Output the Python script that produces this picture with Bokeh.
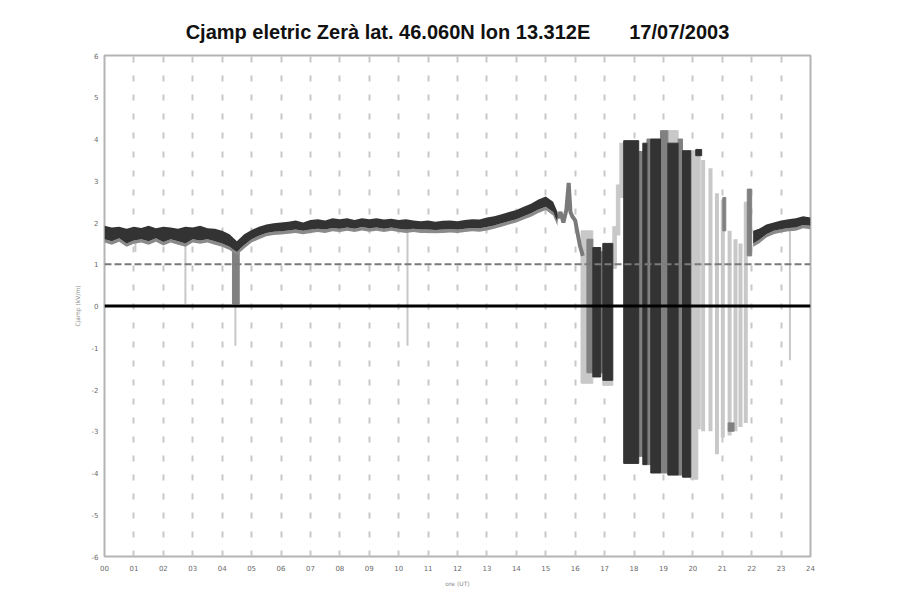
from bokeh.plotting import figure
from bokeh.models import FixedTicker, Span, ColumnDataSource, Range1d
from bokeh.embed import file_html
from bokeh.resources import INLINE

# ---------------- data ----------------
title_text = "Cjamp eletric Zerà lat. 46.060N lon 13.312E" + "\u00a0" * 6 + " 17/07/2003"
x_label = "ore (UT)"
y_label = "Cjamp (kV/m)"
hour_ticks = list(range(0, 25))
hour_labels = ["%02d" % h for h in hour_ticks]
field_ticks = [-6, -5, -4, -3, -2, -1, 0, 1, 2, 3, 4, 5, 6]
field_labels = ["-6", "-5", "-4", "-3", "-2", "-1", "0", "1", "2", "3", "4", "5", "6"]

# calm record before the storm (upper / lower edge of the trace)
calm1_h = [0.00, 0.25, 0.50, 0.75, 1.00, 1.25, 1.50, 1.75, 2.00, 2.25, 2.50, 2.75,
           3.00, 3.25, 3.50, 3.75, 4.00, 4.25, 4.50, 4.75, 5.00, 5.25, 5.50, 5.75,
           6.00, 6.25, 6.50, 6.75, 7.00, 7.25, 7.50, 7.75, 8.00, 8.25, 8.50, 8.75,
           9.00, 9.25, 9.50, 9.75, 10.00, 10.25, 10.50, 10.75, 11.00, 11.25, 11.50, 11.75,
           12.00, 12.25, 12.50, 12.75, 13.00, 13.25, 13.50, 13.75, 14.00, 14.25, 14.50, 14.75,
           15.00, 15.25, 15.40]
calm1_hi = [1.92, 1.88, 1.90, 1.85, 1.90, 1.87, 1.92, 1.86, 1.90, 1.88, 1.85, 1.90,
            1.88, 1.92, 1.86, 1.85, 1.80, 1.72, 1.55, 1.72, 1.82, 1.90, 1.95, 1.98,
            2.00, 2.02, 2.05, 2.00, 2.06, 2.08, 2.05, 2.10, 2.08, 2.10, 2.06, 2.10,
            2.08, 2.10, 2.07, 2.09, 2.06, 2.08, 2.05, 2.03, 2.05, 2.02, 2.04, 2.05,
            2.03, 2.06, 2.08, 2.07, 2.12, 2.15, 2.20, 2.25, 2.30, 2.38, 2.45, 2.55,
            2.62, 2.50, 2.25]
calm1_lo = [1.60, 1.55, 1.62, 1.50, 1.57, 1.60, 1.55, 1.62, 1.53, 1.60, 1.55, 1.50,
            1.60, 1.57, 1.60, 1.55, 1.50, 1.42, 1.30, 1.46, 1.60, 1.68, 1.75, 1.78,
            1.79, 1.81, 1.83, 1.80, 1.83, 1.85, 1.83, 1.87, 1.85, 1.88, 1.85, 1.89,
            1.86, 1.88, 1.85, 1.88, 1.85, 1.83, 1.85, 1.83, 1.83, 1.82, 1.83, 1.84,
            1.83, 1.85, 1.87, 1.86, 1.89, 1.93, 1.98, 2.03, 2.08, 2.15, 2.22, 2.31,
            2.38, 2.25, 2.00]

# trace at the onset of the storm (single line)
onset_h = [15.40, 15.50, 15.60, 15.70, 15.78, 15.84, 15.90, 16.00, 16.08, 16.16, 16.26]
onset_v = [2.10, 2.25, 2.00, 2.30, 2.95, 2.25, 2.15, 2.05, 1.75, 1.45, 1.20]

# calm record after the storm
calm2_h = [22.05, 22.25, 22.50, 22.75, 23.00, 23.25, 23.50, 23.75, 24.00]
calm2_hi = [1.80, 1.85, 1.95, 2.00, 2.05, 2.08, 2.10, 2.15, 2.12]
calm2_lo = [1.50, 1.58, 1.72, 1.80, 1.84, 1.87, 1.88, 1.94, 1.92]

# isolated spikes: hour, top, bottom
spike_h = [1.05, 2.75, 4.45, 10.30, 23.30]
spike_top = [1.55, 1.55, 0.05, 1.85, 1.90]
spike_bot = [1.30, 0.05, -0.95, -0.95, -1.30]

# individual swings in the late part of the storm: hour, top, bottom
swing_h = [20.20, 20.35, 20.60, 20.82, 21.02, 21.25, 21.45, 21.62, 21.80]
swing_top = [3.60, 3.50, 3.30, 2.70, 2.55, 1.80, 1.60, 1.50, 2.50]
swing_bot = [-2.95, -3.00, -3.00, -3.55, -3.15, -3.10, -3.00, -2.90, -2.80]

# storm oscillation envelopes: start hour, end hour, top, bottom, shade
band_start = [4.35, 16.20, 16.40, 16.60, 16.87, 16.94,
              16.94, 17.28, 17.40, 17.52, 17.65, 18.16, 18.30, 18.44, 18.57, 18.90,
              19.15, 19.15, 19.50, 19.65, 19.93, 20.10, 21.02, 21.20, 21.85]
band_end = [4.58, 16.60, 16.60, 16.87, 16.94, 17.28,
            17.28, 17.40, 17.52, 17.65, 18.16, 18.30, 18.44, 18.57, 18.90, 19.15,
            19.50, 19.50, 19.65, 19.93, 20.17, 20.30, 21.12, 21.40, 22.00]
band_top = [1.40, 1.80, 1.60, 1.40, 1.30, 1.50,
            -1.78, 1.90, 2.90, 3.90, 3.96, 3.70, 3.90, 4.00, 4.00, 4.20,
            3.90, 4.20, 4.00, 3.72, 3.72, 3.75, 2.60, -2.80, 2.80]
band_bot = [0.05, -1.85, -1.60, -1.70, -1.60, -1.78,
            -1.90, 0.90, 1.70, 2.60, -3.77, -3.60, -3.80, -3.80, -4.00, -4.00,
            -4.05, 3.90, -4.05, -4.10, -4.15, 3.60, 1.80, -3.00, 1.20]
band_shade = ["mid", "light", "mid", "dark", "mid", "dark",
              "light", "light", "light", "light", "dark", "mid", "dark", "mid", "dark", "mid",
              "dark", "light", "mid", "dark", "light", "dark", "mid", "mid", "mid"]

threshold = 1.0

# ---------------- styling ----------------
shade_color = {"dark": "#333333", "mid": "#808080", "light": "#c8c8c8"}
order = {"light": 0, "mid": 1, "dark": 2}

p = figure(width=900, height=590, output_backend="svg", toolbar_location=None,
           x_range=Range1d(0, 24), y_range=Range1d(-6, 6),
           min_border_left=104, min_border_right=90, min_border_top=55, min_border_bottom=34)
p.background_fill_color = "white"
p.border_fill_color = "white"
p.outline_line_color = "#b4b4b4"
p.outline_line_width = 2

p.title.text = title_text
p.title.align = "center"
p.title.vertical_align = "top"
p.title.text_font = "Liberation Sans"
p.title.text_font_style = "bold"
p.title.text_font_size = "20px"
p.title.text_color = "#111111"
p.title.standoff = 21

# grid
p.ygrid.visible = False
p.xgrid.ticker = FixedTicker(ticks=hour_ticks)
p.xgrid.grid_line_color = "#c8c8c8"
p.xgrid.grid_line_width = 2
p.xgrid.grid_line_dash = "6 13"

# axes
for ax in (p.xaxis[0], p.yaxis[0]):
    ax.axis_line_color = None
    ax.major_tick_line_color = None
    ax.minor_tick_line_color = None
    ax.major_tick_out = 0
    ax.major_tick_in = 0
    ax.major_label_text_font = "DejaVu Sans"
    ax.major_label_text_font_size = "7px"
    ax.major_label_text_color = "#6a6a6a"
    ax.axis_label_text_font = "DejaVu Sans"
    ax.axis_label_text_font_size = "6px"
    ax.axis_label_text_font_style = "normal"
    ax.axis_label_text_color = "#8a8a8a"

p.xaxis.ticker = FixedTicker(ticks=hour_ticks)
p.xaxis.major_label_overrides = {t: l for t, l in zip(hour_ticks, hour_labels)}
p.xaxis.major_label_standoff = 8
p.xaxis.axis_label = x_label
p.xaxis.axis_label_standoff = 6
p.yaxis.ticker = FixedTicker(ticks=field_ticks)
p.yaxis.major_label_overrides = {t: l for t, l in zip(field_ticks, field_labels)}
p.yaxis.major_label_standoff = 6
p.yaxis.axis_label = y_label
p.yaxis.axis_label_standoff = 8

# threshold line
p.add_layout(Span(location=threshold, dimension="width", line_color="#7a7a7a",
                  line_width=2, line_dash="7 3"))

# storm envelopes
idx = sorted(range(len(band_start)), key=lambda i: order[band_shade[i]])
bsrc = ColumnDataSource(dict(
    left=[band_start[i] for i in idx], right=[band_end[i] for i in idx],
    top=[band_top[i] for i in idx], bottom=[band_bot[i] for i in idx],
    color=[shade_color[band_shade[i]] for i in idx]))

# late-storm swings (light, drawn first)
p.segment(x0=swing_h, y0=swing_top, x1=swing_h, y1=swing_bot,
          line_color=shade_color["light"], line_width=4)
p.quad(left="left", right="right", top="top", bottom="bottom", source=bsrc,
       fill_color="color", line_color="color", line_width=1)

# isolated spikes
p.segment(x0=spike_h, y0=spike_top, x1=spike_h, y1=spike_bot,
          line_color=shade_color["light"], line_width=2)

# onset trace
p.line(onset_h, onset_v, line_color="#7a7a7a", line_width=4)

# calm trace
for hh, hi, lo in ((calm1_h, calm1_hi, calm1_lo), (calm2_h, calm2_hi, calm2_lo)):
    p.varea(x=hh, y1=[v - 0.08 for v in lo], y2=lo, fill_color="#8a8a8a")
    p.varea(x=hh, y1=lo, y2=hi, fill_color="#333333")

p.add_layout(Span(location=0, dimension="width", line_color="black", line_width=3))

open("out.html", "w").write(file_html(p, INLINE))
